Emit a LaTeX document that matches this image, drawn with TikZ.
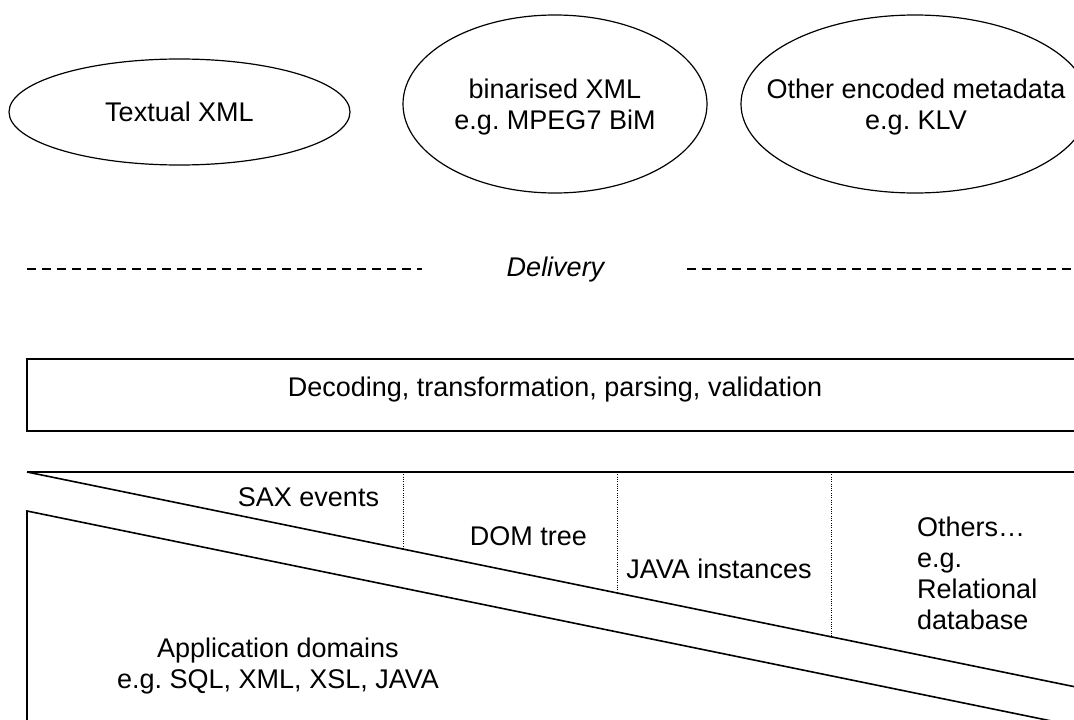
\documentclass[tikz,border=0pt]{standalone}
\usepackage{fontspec}
\setmainfont{Liberation Sans}
\frenchspacing
\usetikzlibrary{shapes.geometric}
\tikzset{
  blob/.style={ellipse, draw, line width=1.2pt},
  bar/.style={line width=1.6pt},
  gap/.style={line width=1.2pt, dash pattern=on 9pt off 6pt},
  split/.style={line width=0.8pt, dash pattern=on 1pt off 1.3pt},
}
\begin{document}
\begin{tikzpicture}[x=1pt, y=-1pt, every node/.style={inner sep=0pt, font=\fontsize{27}{30.8}\selectfont}]
        \useasboundingbox(0,0)rectangle(1074,720);
        \clip(0,0)rectangle(1074,720);
        \node[blob, minimum width=341pt, minimum height=106pt](textual)at(179.5,112){};
        \node[blob, minimum width=304pt, minimum height=178pt](binarised)at(555,104){};
        \node[blob, minimum width=348pt, minimum height=178pt](other)at(915,104){};
        \draw node(textualtext)at(textual){Textual XML};
        \draw node[align=center](binarisedtext)at(555,107){binarised XML\\e.g. MPEG7 BiM};
        \draw node[align=center](othertext)at(916,107){Other encoded metadata\\e.g. KLV};
        \coordinate(DL0)at(27,269);
        \coordinate(DL1)at(422,269);
        \coordinate(DR0)at(687,269);
        \coordinate(DR1)at(1074,269);
        \draw node[anchor=base](delivery)at(555.5,276){\itshape Delivery};
        \draw[gap](DL0)--(DL1) (DR0)--(DR1);
        \coordinate(P0)at(27,359);
        \coordinate(P1)at(1090,431);
        \draw[bar](P0)rectangle(P1);
        \draw node[anchor=base](decoding)at(555,396){Decoding, transformation, parsing, validation};
        \coordinate(T0)at(27,472);
        \coordinate(T1)at(1090,472);
        \coordinate(T2)at(1074,686.6);
        \coordinate(L0)at(27,730);
        \coordinate(L1)at(27,511);
        \coordinate(L2)at(1074,725.6);
        \draw[bar](T0)--(T1) (T0)--(T2);
        \draw[bar](L0)--(L1)--(L2);
        \foreach \x in {403,617,831}
          \draw[split](\x,472)--(\x,{472+0.205*(\x-27)});
        \draw node[anchor=base](sax)at(308.5,506){SAX events};
        \draw node[anchor=base](dom)at(528.5,545){DOM tree};
        \draw node[anchor=base](java)at(719,578){JAVA instances};
        \draw node[anchor=west, align=left](others)at(917,573.5){Others…\\e.g.\\Relational\\database};
        \draw node[align=center](apps)at(278,666){Application domains\\e.g. SQL, XML, XSL, JAVA};
    \end{tikzpicture}
\end{document}
